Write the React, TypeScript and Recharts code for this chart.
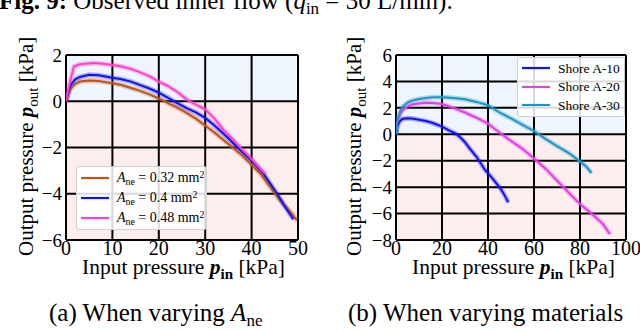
import React from 'react';
import { LineChart, Line, XAxis, YAxis, CartesianGrid, Legend } from 'recharts';

const FONT = '"Liberation Serif", "Times New Roman", serif';

// (a) output vs input pressure [kPa] for three nozzle areas
const ane032: [number, number][] = [
  [0, 0], [0.5, 0.3], [1, 0.55], [2, 0.75], [3, 0.85], [5, 0.9], [7, 0.88], [10, 0.78], [12, 0.7],
  [14, 0.57], [16, 0.45], [18, 0.3], [20, 0.12], [22, -0.08], [24, -0.28], [26, -0.5], [28, -0.75],
  [30, -1.05], [32, -1.35], [35, -1.85], [38, -2.35], [40, -2.75], [42, -3.15], [44, -3.7],
  [46, -4.25], [48, -4.7], [49.8, -5.15],
];
const ane04: [number, number][] = [
  [0, 0], [0.5, 0.4], [1, 0.7], [2, 0.95], [3, 1.05], [5, 1.15], [7, 1.12], [10, 1.02], [12, 0.95],
  [14, 0.85], [16, 0.7], [18, 0.55], [20, 0.37], [22, 0.15], [24, -0.08], [26, -0.3], [28, -0.48],
  [30, -0.72], [32, -1.05], [35, -1.6], [37, -2.0], [40, -2.57], [42.6, -3.14], [45.5, -4.0],
  [47, -4.5], [49, -5.1],
];
const ane048: [number, number][] = [
  [0, 0], [0.5, 0.5], [1, 0.95], [1.7, 1.5], [3, 1.6], [6, 1.65], [8, 1.62], [10, 1.57], [12, 1.5],
  [14, 1.4], [16, 1.25], [18, 1.08], [20, 0.85], [22, 0.65], [24, 0.4], [26, 0.08], [28, -0.15],
  [30, -0.35], [32, -0.75], [34, -1.25], [36, -1.65], [38, -2.1], [40, -2.5], [42, -2.95], [43, -3.15],
];
const aneNames = ['0.32', '0.4', '0.48'];
const aneColors = ['#b8561c', '#1010f0', '#ff40c8'];

// (b) output vs input pressure [kPa] for three materials
const shoreA10: [number, number][] = [
  [0, 0], [0.5, 0.55], [1, 0.8], [2, 1.05], [3, 1.17], [5, 1.22], [7, 1.2], [10, 1.1], [13, 1.0],
  [16, 0.85], [20, 0.58], [23, 0.3], [26, 0.05], [28, -0.25], [30, -0.6], [32, -1.07], [35, -1.7],
  [38.7, -2.7], [42, -3.35], [45.2, -4.05], [47, -4.55], [48.8, -5.15],
];
const shoreA20: [number, number][] = [
  [0, 0], [0.5, 0.8], [1, 1.2], [2, 1.6], [3, 1.85], [5, 2.1], [7, 2.25], [10, 2.33], [13, 2.38],
  [16, 2.37], [20, 2.29], [25, 2.0], [30, 1.65], [35, 1.25], [40, 0.8], [43, 0.4], [46, 0],
  [50, -0.5], [55, -1.1], [60, -1.83], [65, -2.6], [70, -3.5], [75, -4.4], [80, -5.27], [85, -6.0],
  [90, -6.8], [93, -7.56],
];
const shoreA30: [number, number][] = [
  [0, 0], [0.5, 0.9], [1, 1.3], [2, 1.8], [3, 2.1], [5, 2.4], [7, 2.55], [10, 2.67], [13, 2.75],
  [16, 2.8], [19, 2.8], [22, 2.78], [25, 2.75], [30, 2.65], [35, 2.45], [40, 2.2], [45, 1.65],
  [50, 1.2], [55, 0.72], [60, 0.25], [65, -0.35], [70, -0.9], [75, -1.4], [80, -2.05], [83, -2.5],
  [85, -2.93],
];
const shoreNames = ['Shore A-10', 'Shore A-20', 'Shore A-30'];
const shoreColors = ['#1010f0', '#e040e8', '#1e96c4'];

const xTicksA = [0, 10, 20, 30, 40, 50];
const yTicksA = [-6, -4, -2, 0, 2];
const xTicksB = [0, 20, 40, 60, 80, 100];
const yTicksB = [-8, -6, -4, -2, 0, 2, 4, 6];

const BLUE_BG = '#eef5fc';
const PINK_BG = '#fdeeee';

const toPoints = (pairs: [number, number][]) => pairs.map(([x, y]) => ({ x, y }));
const fmt = (v: number) => (v < 0 ? '\u2212' + Math.abs(v) : String(v));

type Series = { name: string; color: string; points: { x: number; y: number }[] };

const seriesA: Series[] = [ane032, ane04, ane048].map((d, i) => ({
  name: aneNames[i], color: aneColors[i], points: toPoints(d),
}));
const seriesB: Series[] = [shoreA10, shoreA20, shoreA30].map((d, i) => ({
  name: shoreNames[i], color: shoreColors[i], points: toPoints(d),
}));

const LegendBox = ({ series, rowH, fontSize, width, height, isAne }: any) => (
  <div style={{
    width, height, boxSizing: 'border-box', background: 'rgba(255,255,255,0.85)',
    border: '1px solid #cfcfcf', borderRadius: 3, fontFamily: FONT, fontSize, color: '#000',
    paddingTop: 1,
  }}>
    {series.map((s: Series) => (
      <div key={s.name} style={{ height: rowH, display: 'flex', alignItems: 'center', lineHeight: 1 }}>
        <svg width={40} height={6} style={{ flex: 'none' }}>
          <line x1={4} x2={32} y1={3} y2={3} stroke={s.color} strokeWidth={2.2} />
        </svg>
        {isAne ? (
          <span style={{ whiteSpace: 'nowrap' }}>
            <i>A</i><span style={{ fontSize: '0.7em', position: 'relative', top: '0.3em' }}>ne</span>
            {' = ' + s.name + ' mm'}
            <span style={{ fontSize: '0.7em', position: 'relative', top: '-0.45em' }}>2</span>
          </span>
        ) : (
          <span style={{ whiteSpace: 'nowrap' }}>{s.name}</span>
        )}
      </div>
    ))}
  </div>
);

const tickStyleX = { fill: '#000', fontSize: 20, fontFamily: FONT };
const tickStyleY = { fill: '#000', fontSize: 19, fontFamily: FONT };

const Panel = ({ left, yAxisWidth, marginRight, xDomain, xTicks, yDomain, yTicks, stripes, series, legend }: any) => (
  <div style={{ position: 'absolute', left, top: 0 }}>
    <LineChart width={320} height={290} margin={{ top: 55, right: marginRight, bottom: 20, left: 0 }}>
      <CartesianGrid stroke="#000" strokeWidth={2} horizontalFill={stripes} fillOpacity={1} />
      <XAxis type="number" dataKey="x" domain={xDomain} ticks={xTicks} interval={0} allowDataOverflow
        axisLine={false} tickLine={false} tickSize={0} tickMargin={1} height={30} tick={tickStyleX} />
      <YAxis type="number" domain={yDomain} ticks={yTicks} interval={0} allowDataOverflow
        axisLine={false} tickLine={false} tickSize={0} tickMargin={4} width={yAxisWidth}
        tick={tickStyleY} tickFormatter={fmt} />
      {series.map((s: Series) => (
        <Line key={s.name + '-band'} data={s.points} dataKey="y" type="linear" stroke={s.color}
          strokeOpacity={0.3} strokeWidth={5} dot={false} activeDot={false} legendType="none"
          isAnimationActive={false} />
      ))}
      {series.map((s: Series) => (
        <Line key={s.name} data={s.points} dataKey="y" name={s.name} type="linear" stroke={s.color}
          strokeWidth={2} dot={false} activeDot={false} isAnimationActive={false} />
      ))}
      <Legend layout="horizontal" verticalAlign="middle" align="center"
        wrapperStyle={{ left: legend.left, top: legend.top, width: legend.width, height: legend.height }}
        content={() => <LegendBox series={series} {...legend} />} />
    </LineChart>
  </div>
);

export default function App() {
  return (
    <div style={{ position: 'absolute', left: 0, top: 0, width: 640, height: 331, background: '#fff', overflow: 'hidden' }}>
      <style>{`.recharts-cartesian-axis-tick-value { font-family: ${FONT}; }`}</style>
      <Panel left={0} yAxisWidth={66} marginRight={22} xDomain={[0, 50]} xTicks={xTicksA}
        yDomain={[-6, 2]} yTicks={yTicksA} stripes={[BLUE_BG, PINK_BG, PINK_BG, PINK_BG]} series={seriesA}
        legend={{ left: 76, top: 166, width: 131, height: 64, rowH: 20, fontSize: 14, isAne: true }} />
      <Panel left={320} yAxisWidth={76} marginRight={14} xDomain={[0, 100]} xTicks={xTicksB}
        yDomain={[-8, 6]} yTicks={yTicksB}
        stripes={[BLUE_BG, BLUE_BG, BLUE_BG, PINK_BG, PINK_BG, PINK_BG, PINK_BG]} series={seriesB}
        legend={{ left: 197, top: 57, width: 108, height: 60, rowH: 18.5, fontSize: 13.5, isAne: false }} />
      <svg width={640} height={331} style={{ position: 'absolute', left: 0, top: 0, pointerEvents: 'none' }}
        fontFamily={FONT} fill="#000">
        <text x={-1} y={9} fontSize={25}>
          <tspan fontWeight="bold">Fig. 9:</tspan> Observed inner flow (<tspan fontStyle="italic">q</tspan>
          <tspan fontSize={17} dy={5}>in</tspan><tspan dy={-5}> = 30 L/min).</tspan>
        </text>
        {[33, 361].map((bx) => (
          <text key={bx} transform={`translate(${bx},256) rotate(-90)`} fontSize={21}>
            Output pressure <tspan fontStyle="italic" fontWeight="bold">p</tspan>
            <tspan fontSize={15} dy={5}>out</tspan><tspan dy={-5}> [kPa]</tspan>
          </text>
        ))}
        {[183.5, 513.5].map((cx) => (
          <text key={cx} x={cx} y={274} fontSize={21.5} textAnchor="middle">
            Input pressure <tspan fontStyle="italic" fontWeight="bold">p</tspan>
            <tspan fontSize={15} fontWeight="bold" dy={5}>in</tspan><tspan dy={-5}> [kPa]</tspan>
          </text>
        ))}
        <text x={49} y={321} fontSize={25}>
          (a) When varying <tspan fontStyle="italic">A</tspan><tspan fontSize={17} dy={5}>ne</tspan>
        </text>
        <text x={348} y={321} fontSize={25}>(b) When varying materials</text>
      </svg>
    </div>
  );
}
